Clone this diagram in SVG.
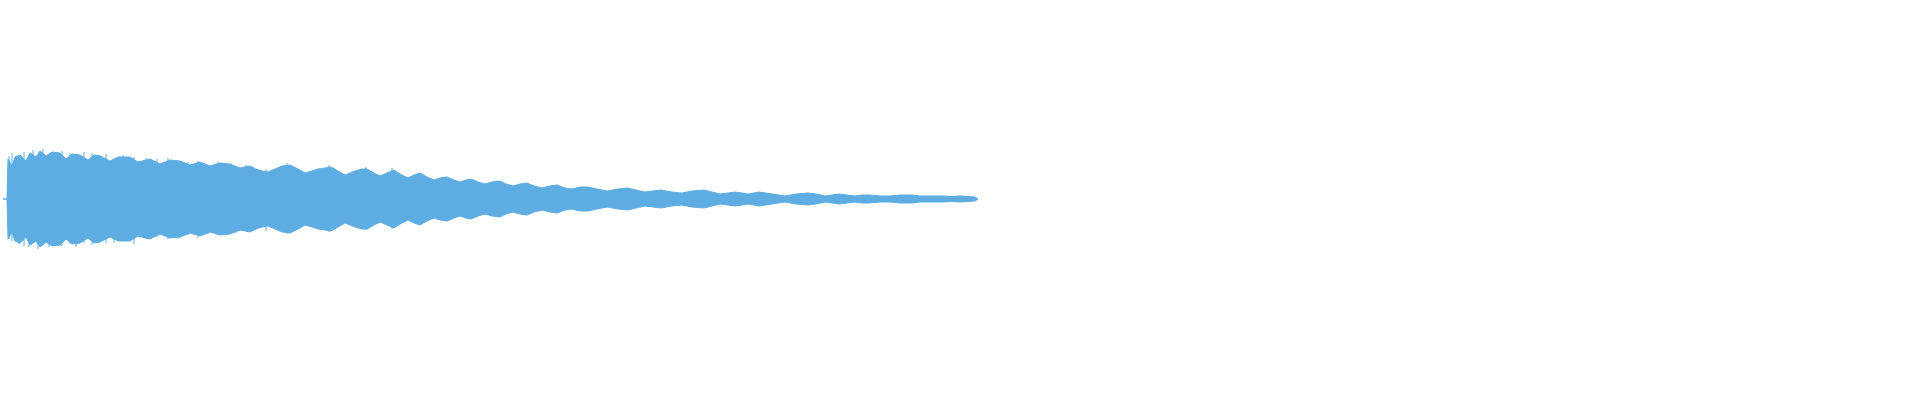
<svg xmlns="http://www.w3.org/2000/svg" width="1920" height="400" viewBox="0 0 1920 400">
<style>.w{fill:#5dade2;stroke:#5dade2;stroke-width:1;stroke-linejoin:miter}.s{stroke:#5dade2;stroke-width:1}</style>
<rect width="1920" height="400" fill="#ffffff"/>
<g id="waveform" transform="translate(0,199)">
<line x1="3" y1="0" x2="8" y2="0" stroke="#5dade2" stroke-width="1.5"/>
<polygon class="w" points="7,0 8,-40 12,-33 15,-42 20,-44 26,-38 30,-46 36,-42 40,-48 46,-43 52,-47 60,-46 66,-40 72,-45 80,-44 88,-39 94,-44 100,-43 110,-38 118,-42 130,-42 138,-37 150,-40 160,-35 170,-39 180,-38 190,-34 200,-37 210,-33 220,-36 230,-35 240,-31 250,-33 256,-30 262,-28 268,-27 275,-30 282,-33 290,-34 298,-30 305,-26 312,-28 318,-30 325,-31 331,-32 338,-28 345,-24 350,-26 355,-28 362,-30 367,-30 374,-26 380,-23 387,-26 394,-29 400,-25 408,-21 414,-24 420,-26 427,-22 434,-19 440,-21 447,-22 454,-19 460,-17 466,-19 471,-20 478,-17 485,-15 492,-17 500,-18 506,-15 513,-13 520,-15 527,-16 534,-13 542,-11 550,-13 557,-14 565,-11 572,-10 580,-12 588,-12 597,-10 607,-8 618,-10 628,-11 636,-9 645,-7 653,-8 661,-9 672,-7 682,-6 692,-8 704,-9 712,-7 720,-5 728,-6 735,-7 742,-6 748,-5 754,-6 759,-7 772,-5 785,-3 796,-5 808,-6 816,-5 825,-3 832,-4 839,-5 847,-4 855,-3 862,-4 869,-4 880,-3 890,-3 900,-4 912,-4 920,-3 927,-3 935,-3 943,-3 952,-2.5 960,-3 968,-2.5 975,-2 978,0 975,2 968,2.5 960,3 952,2.5 943,3 935,3 927,3 920,3 912,4 900,4 890,3 880,3 869,4 862,4 855,3 847,4 839,5 832,4 825,3 816,5 808,6 796,5 785,3 772,5 759,7 754,6 748,5 742,6 735,7 728,6 720,5 712,7 704,9 692,8 682,6 672,7 661,9 653,8 645,7 636,9 628,11 618,10 607,8 597,10 588,12 580,12 572,10 565,11 557,14 550,13 542,11 534,13 527,16 520,15 513,13 506,15 500,18 492,17 485,15 478,17 471,20 466,19 460,17 454,19 447,22 440,21 434,19 427,22 420,26 414,24 408,21 400,25 394,29 387,26 380,23 374,26 367,30 362,30 355,28 350,26 345,24 338,28 331,32 325,31 318,30 312,28 305,26 298,30 290,34 282,33 275,30 268,27 262,28 256,30 250,33 240,31 230,35 220,36 210,33 200,37 190,34 180,38 170,39 160,35 150,40 138,37 130,42 118,42 110,38 100,43 94,44 88,39 80,44 72,45 66,40 60,46 52,47 46,43 40,48 36,42 30,46 26,38 20,44 15,42 12,33 8,40"/>
<path class="s" d="M9,-43V40 M12,-46V42 M19,-41V45 M24,-47V47 M29,-43V48 M33,-49V44 M38,-45V50 M43,-50V46 M49,-44V48 M55,-47V43 M62,-48V47 M70,-46V45 M76,-42V48 M84,-47V44 M92,-46V46 M99,-44V42 M106,-45V44 M114,-40V44 M123,-44V41 M134,-42V45 M146,-41V40 M157,-40V38 M168,-41V40 M178,-36V40 M188,-37V36 M198,-38V39 M208,-34V35 M218,-37V34 M226,-34V36 M236,-33V34 M246,-34V31 M266,-30V32 M287,-36V35 M329,-34V33 M366,-32V31 M392,-31V30"/>
</g>
</svg>
